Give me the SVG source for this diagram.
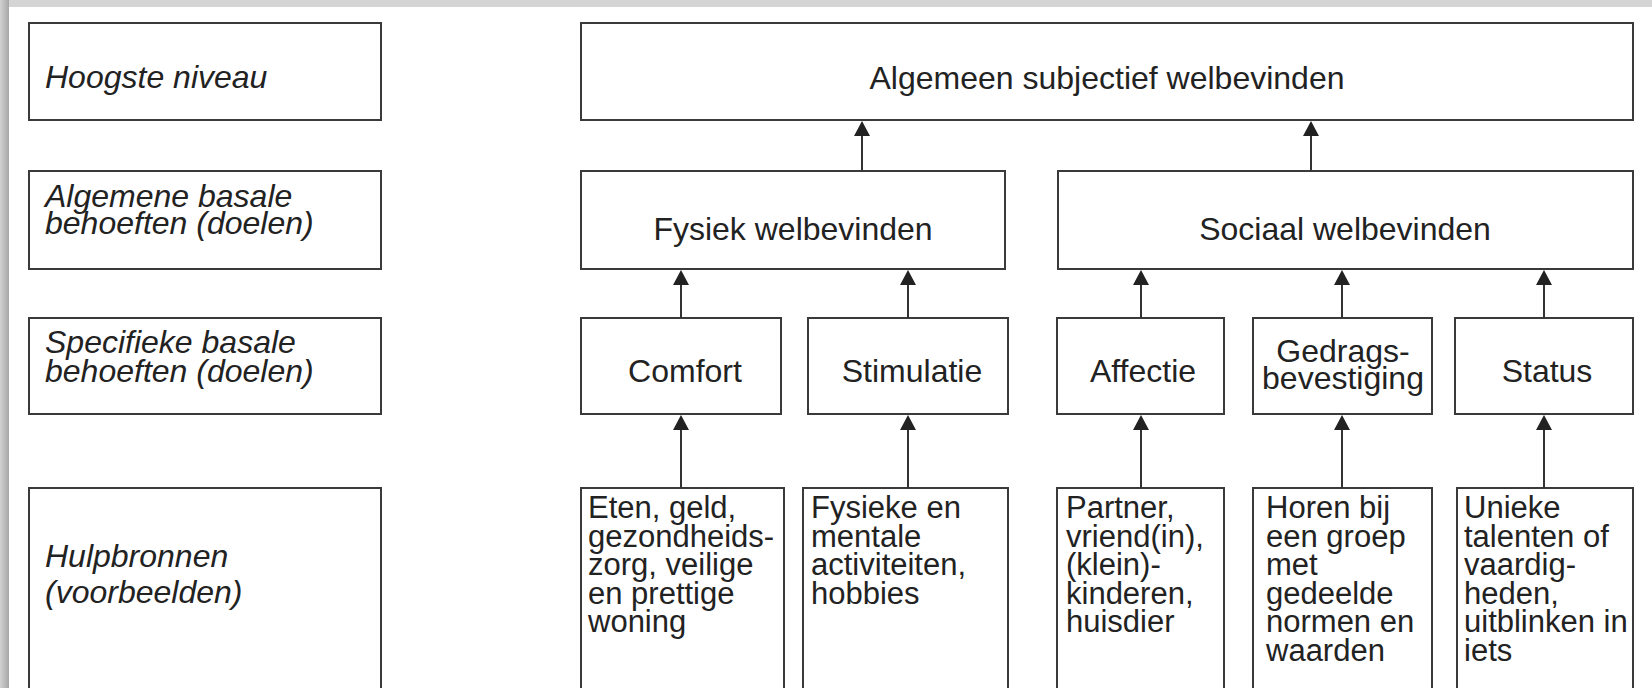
<svg xmlns="http://www.w3.org/2000/svg" width="1652" height="688" viewBox="0 0 1652 688">
<style>
.box{fill:#fff;stroke:#3a3a3a;stroke-width:2}
.t{font-family:"Liberation Sans",Arial,Helvetica,sans-serif;font-size:32px;fill:#222}
.c{text-anchor:middle}
.lab{font-style:italic}
.r4{font-size:31px}
.conn line{stroke:#333;stroke-width:2}
.conn path{fill:#222}
</style>
<defs>
<linearGradient id="lg" x1="0" y1="0" x2="1" y2="0">
<stop offset="0" stop-color="#d2d2d2"/>
<stop offset="1" stop-color="#a6a6a6"/>
</linearGradient>
</defs>
<rect x="0" y="0" width="1652" height="688" fill="#fff"/>
<rect x="0" y="0" width="1652" height="7" fill="#d5d5d5"/>
<rect x="0" y="0" width="9" height="688" fill="url(#lg)"/>

<g id="label-hoogste">
<rect class="box" x="29" y="23" width="352" height="97"/>
<text class="t lab" x="45" y="88">Hoogste niveau</text>
</g>
<g id="label-algemene">
<rect class="box" x="29" y="171" width="352" height="98"/>
<text class="t lab" x="45" y="207">Algemene basale</text>
<text class="t lab" x="45" y="234">behoeften (doelen)</text>
</g>
<g id="label-specifieke">
<rect class="box" x="29" y="318" width="352" height="96"/>
<text class="t lab" x="45" y="353">Specifieke basale</text>
<text class="t lab" x="45" y="382">behoeften (doelen)</text>
</g>
<g id="label-hulpbronnen">
<rect class="box" x="29" y="488" width="352" height="230"/>
<text class="t lab" x="45" y="567">Hulpbronnen</text>
<text class="t lab" x="45" y="603">(voorbeelden)</text>
</g>

<g id="n-algemeen">
<rect class="box" x="581" y="23" width="1052" height="97"/>
<text class="t c" x="1107" y="89">Algemeen subjectief welbevinden</text>
</g>
<g id="n-fysiek">
<rect class="box" x="581" y="171" width="424" height="98"/>
<text class="t c" x="793" y="240">Fysiek welbevinden</text>
</g>
<g id="n-sociaal">
<rect class="box" x="1058" y="171" width="575" height="98"/>
<text class="t c" x="1345" y="240">Sociaal welbevinden</text>
</g>

<g id="n-comfort">
<rect class="box" x="581" y="318" width="200" height="96"/>
<text class="t c" x="685" y="382">Comfort</text>
</g>
<g id="n-stimulatie">
<rect class="box" x="808" y="318" width="200" height="96"/>
<text class="t c" x="912" y="382">Stimulatie</text>
</g>
<g id="n-affectie">
<rect class="box" x="1057" y="318" width="167" height="96"/>
<text class="t c" x="1143" y="382">Affectie</text>
</g>
<g id="n-gedrags">
<rect class="box" x="1253" y="318" width="179" height="96"/>
<text class="t c" x="1343" y="362">Gedrags-</text>
<text class="t c" x="1343" y="389">bevestiging</text>
</g>
<g id="n-status">
<rect class="box" x="1455" y="318" width="178" height="96"/>
<text class="t c" x="1547" y="382">Status</text>
</g>

<g id="n-eten">
<rect class="box" x="581" y="488" width="203" height="230"/>
<text class="t r4" x="588" y="518">Eten, geld,</text>
<text class="t r4" x="588" y="546.5">gezondheids-</text>
<text class="t r4" x="588" y="575">zorg, veilige</text>
<text class="t r4" x="588" y="603.5">en prettige</text>
<text class="t r4" x="588" y="632">woning</text>
</g>
<g id="n-fysieke">
<rect class="box" x="803" y="488" width="205" height="230"/>
<text class="t r4" x="811" y="518">Fysieke en</text>
<text class="t r4" x="811" y="546.5">mentale</text>
<text class="t r4" x="811" y="575">activiteiten,</text>
<text class="t r4" x="811" y="603.5">hobbies</text>
</g>
<g id="n-partner">
<rect class="box" x="1057" y="488" width="167" height="230"/>
<text class="t r4" x="1066" y="518">Partner,</text>
<text class="t r4" x="1066" y="546.5">vriend(in),</text>
<text class="t r4" x="1066" y="575">(klein)-</text>
<text class="t r4" x="1066" y="603.5">kinderen,</text>
<text class="t r4" x="1066" y="632">huisdier</text>
</g>
<g id="n-horen">
<rect class="box" x="1253" y="488" width="179" height="230"/>
<text class="t r4" x="1266" y="518">Horen bij</text>
<text class="t r4" x="1266" y="546.5">een groep</text>
<text class="t r4" x="1266" y="575">met</text>
<text class="t r4" x="1266" y="603.5">gedeelde</text>
<text class="t r4" x="1266" y="632">normen en</text>
<text class="t r4" x="1266" y="660.5">waarden</text>
</g>
<g id="n-unieke">
<rect class="box" x="1457" y="488" width="176" height="230"/>
<text class="t r4" x="1464" y="518">Unieke</text>
<text class="t r4" x="1464" y="546.5">talenten of</text>
<text class="t r4" x="1464" y="575">vaardig-</text>
<text class="t r4" x="1464" y="603.5">heden,</text>
<text class="t r4" x="1464" y="632">uitblinken in</text>
<text class="t r4" x="1464" y="660.5">iets</text>
</g>

<g id="connectors" class="conn">
<line x1="862" y1="171" x2="862" y2="134"/><path d="M862 121 L870 136 L854 136 Z"/>
<line x1="1311" y1="171" x2="1311" y2="134"/><path d="M1311 121 L1319 136 L1303 136 Z"/>
<line x1="681" y1="318" x2="681" y2="283"/><path d="M681 270 L689 285 L673 285 Z"/>
<line x1="908" y1="318" x2="908" y2="283"/><path d="M908 270 L916 285 L900 285 Z"/>
<line x1="1141" y1="318" x2="1141" y2="283"/><path d="M1141 270 L1149 285 L1133 285 Z"/>
<line x1="1342" y1="318" x2="1342" y2="283"/><path d="M1342 270 L1350 285 L1334 285 Z"/>
<line x1="1544" y1="318" x2="1544" y2="283"/><path d="M1544 270 L1552 285 L1536 285 Z"/>
<line x1="681" y1="488" x2="681" y2="428"/><path d="M681 415 L689 430 L673 430 Z"/>
<line x1="908" y1="488" x2="908" y2="428"/><path d="M908 415 L916 430 L900 430 Z"/>
<line x1="1141" y1="488" x2="1141" y2="428"/><path d="M1141 415 L1149 430 L1133 430 Z"/>
<line x1="1342" y1="488" x2="1342" y2="428"/><path d="M1342 415 L1350 430 L1334 430 Z"/>
<line x1="1544" y1="488" x2="1544" y2="428"/><path d="M1544 415 L1552 430 L1536 430 Z"/>
</g>
</svg>
